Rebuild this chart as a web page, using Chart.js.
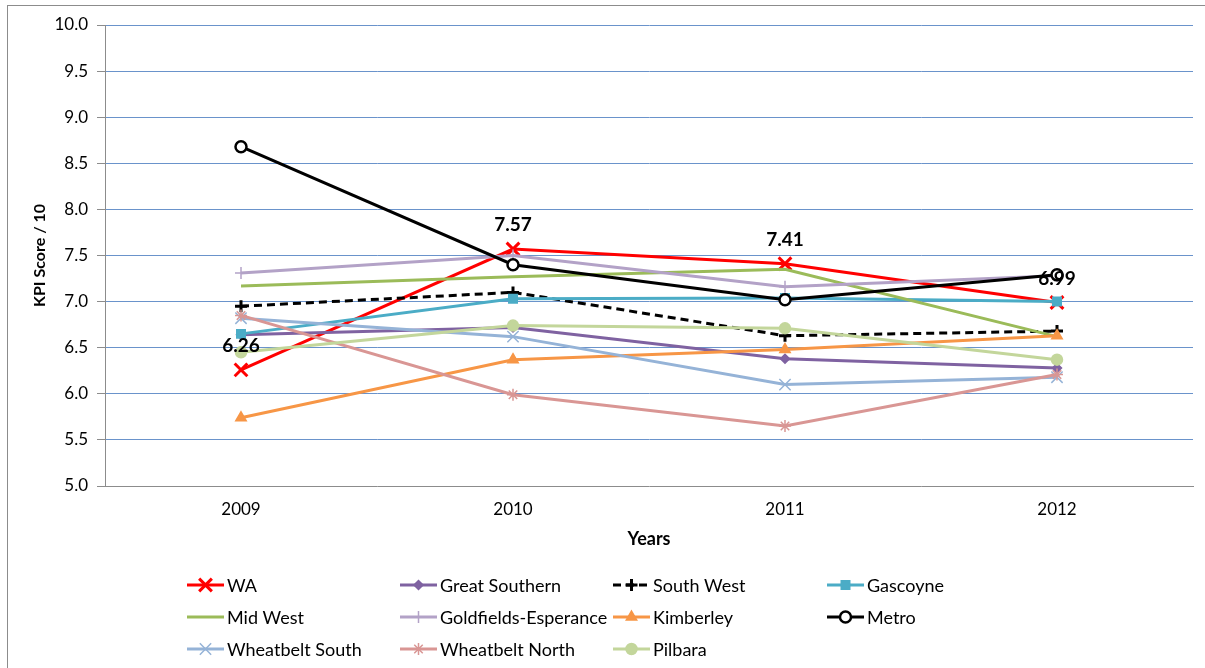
<!DOCTYPE html>
<html>
<head>
<meta charset="utf-8">
<script src="https://cdn.jsdelivr.net/npm/chart.js@4.4.1/dist/chart.umd.min.js"></script>
<style>
  html, body { margin: 0; padding: 0; background: #fff; }
  #wrap { position: relative; width: 1205px; height: 668px; overflow: hidden; }
  #frame { position: absolute; left: 7px; top: 5px; width: 1300px; height: 700px;
           border-left: 1px solid #8c8c8c; border-top: 1px solid #8c8c8c; }
  canvas { position: absolute; left: 0; top: 0; }
</style>
</head>
<body>
<div id="wrap">
  <div id="frame"></div>
  <canvas id="kpi" width="1205" height="668"></canvas>
</div>
<script>
// KPI scores by region, 2009-2012
const years = ['2009', '2010', '2011', '2012'];
const yTicks = [5.0, 5.5, 6.0, 6.5, 7.0, 7.5, 8.0, 8.5, 9.0, 9.5, 10.0];

const wa = [6.26, 7.57, 7.41, 6.99];
const greatSouthern = [6.64, 6.72, 6.38, 6.28];
const southWest = [6.95, 7.10, 6.63, 6.68];
const gascoyne = [6.65, 7.03, 7.04, 7.00];
const midWest = [7.17, 7.27, 7.35, 6.62];
const goldfields = [7.31, 7.50, 7.16, 7.28];
const kimberley = [5.74, 6.37, 6.48, 6.63];
const metro = [8.68, 7.40, 7.02, 7.29];
const wheatbeltSouth = [6.82, 6.62, 6.10, 6.18];
const wheatbeltNorth = [6.85, 5.99, 5.65, 6.21];
const pilbara = [6.45, 6.74, 6.71, 6.37];

const FONT = 'Lato';

function series(label, data, color, style, radius, extra) {
  return Object.assign({
    label: label,
    data: data,
    borderColor: color,
    backgroundColor: color,
    borderWidth: 3,
    pointStyle: style,
    pointRadius: radius,
    pointHoverRadius: radius,
    pointBackgroundColor: color,
    pointBorderColor: color,
    pointBorderWidth: 1.5,
    tension: 0,
    fill: false
  }, extra || {});
}

const datasets = [
  series('WA', wa, '#ff0000', 'crossRot', 9, { pointBorderWidth: 3 }),
  series('Great Southern', greatSouthern, '#7f62a1', 'rectRot', 4.5),
  series('South West', southWest, '#000000', 'cross', 6, { borderDash: [8, 5], pointBorderWidth: 3 }),
  series('Gascoyne', gascoyne, '#4bacc6', 'rect', 6),
  series('Mid West', midWest, '#9bbb59', 'circle', 0),
  series('Goldfields-Esperance', goldfields, '#b3a2c7', 'cross', 6),
  series('Kimberley', kimberley, '#f79646', 'triangle', 6),
  series('Metro', metro, '#000000', 'circle', 5.5, { pointBackgroundColor: '#ffffff', pointBorderWidth: 2.5 }),
  series('Wheatbelt South', wheatbeltSouth, '#95b3d7', 'crossRot', 8),
  series('Wheatbelt North', wheatbeltNorth, '#d99694', 'star', 6),
  series('Pilbara', pilbara, '#c3d69b', 'circle', 5.5)
];
// later series paint over earlier ones
datasets.forEach((ds, i) => { ds.order = datasets.length - i; });

// value labels on the WA line
const waLabels = {
  id: 'waLabels',
  afterDatasetsDraw(chart) {
    const meta = chart.getDatasetMeta(0);
    const ctx = chart.ctx;
    ctx.save();
    ctx.font = 'bold 19px ' + FONT;
    ctx.fillStyle = '#000';
    ctx.textAlign = 'center';
    ctx.textBaseline = 'middle';
    meta.data.forEach((pt, j) => {
      ctx.fillText(wa[j].toFixed(2), pt.x, pt.y - 24);
    });
    ctx.restore();
  }
};

// four-column legend under the axis
const legendGrid = {
  id: 'legendGrid',
  afterDraw(chart) {
    const ctx = chart.ctx;
    const cols = [187, 400, 613, 827];
    const rows = [585, 617, 649];
    chart.data.datasets.forEach((ds, i) => {
      const x = cols[i % 4];
      const y = rows[Math.floor(i / 4)];
      ctx.save();
      ctx.strokeStyle = ds.borderColor;
      ctx.lineWidth = ds.borderWidth;
      ctx.setLineDash(ds.borderDash || []);
      ctx.beginPath();
      ctx.moveTo(x, y);
      ctx.lineTo(x + 37, y);
      ctx.stroke();
      ctx.setLineDash([]);
      if (ds.pointRadius > 0) {
        ctx.fillStyle = ds.pointBackgroundColor;
        ctx.strokeStyle = ds.pointBorderColor;
        ctx.lineWidth = ds.pointBorderWidth;
        Chart.helpers.drawPoint(ctx, {
          pointStyle: ds.pointStyle,
          radius: ds.pointRadius,
          borderWidth: ds.pointBorderWidth,
          rotation: 0
        }, x + 18.5, y);
      }
      ctx.fillStyle = '#000';
      ctx.font = '18px ' + FONT;
      ctx.textAlign = 'left';
      ctx.textBaseline = 'middle';
      ctx.fillText(ds.label, x + 40, y + 1);
      ctx.restore();
    });
  }
};

new Chart(document.getElementById('kpi'), {
  type: 'line',
  data: { labels: years, datasets: datasets },
  plugins: [waLabels, legendGrid],
  options: {
    responsive: false,
    animation: false,
    devicePixelRatio: 1,
    layout: { padding: { left: 0, right: 9, top: 25, bottom: 0 } },
    plugins: {
      legend: { display: false },
      tooltip: { enabled: false }
    },
    scales: {
      x: {
        offset: true,
        grid: { display: false, drawTicks: false },
        border: { color: '#8c8c8c', width: 1 },
        ticks: { color: '#000', font: { family: FONT, size: 17 }, padding: 13 },
        title: {
          display: true, text: 'Years', color: '#000',
          font: { family: FONT, size: 18, weight: 'bold' },
          padding: { top: 0, bottom: 118 }
        },
        afterFit(scale) { scale.height = 182; }
      },
      y: {
        min: 5,
        max: 10,
        afterBuildTicks(scale) { scale.ticks = yTicks.map(v => ({ value: v })); },
        ticks: {
          color: '#000',
          font: { family: FONT, size: 17 },
          padding: 9,
          callback: v => Number(v).toFixed(1)
        },
        grid: {
          color: c => (c.tick && c.tick.value === 5 ? 'rgba(0,0,0,0)' : '#6a93cb'),
          tickColor: '#8c8c8c',
          tickLength: 8,
          lineWidth: 1
        },
        border: { color: '#8c8c8c', width: 1 },
        title: {
          display: true, text: 'KPI Score / 10', color: '#000',
          font: { family: FONT, size: 16, weight: 'bold' },
          padding: { top: 30 }
        },
        afterFit(scale) { scale.width = 105; }
      }
    }
  }
});
</script>
</body>
</html>
